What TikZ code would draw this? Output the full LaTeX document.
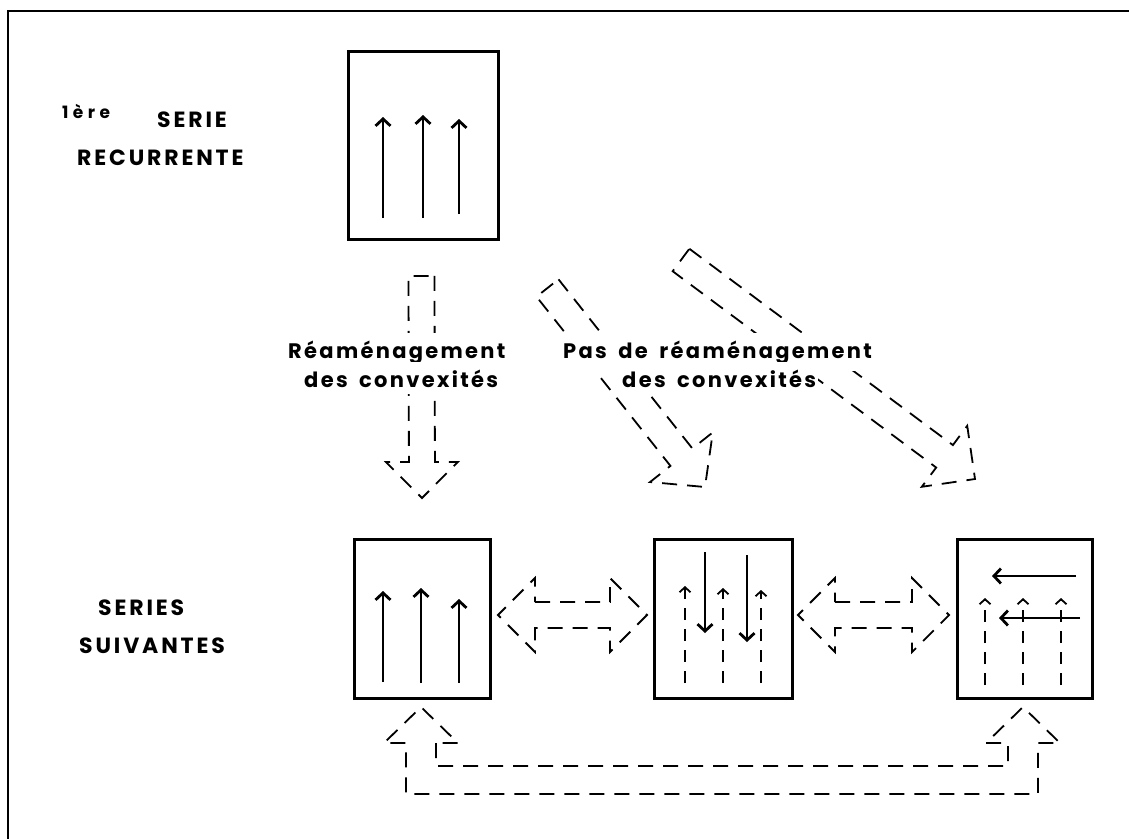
\documentclass[tikz,border=0pt]{standalone}
\usepackage{fontspec}
\setmainfont{Poppins}
\newfontfamily\lab[LetterSpace=11,WordSpace=1.7]{Poppins}
\newfontfamily\capf[LetterSpace=13]{Poppins}
\newfontfamily\supf[LetterSpace=26]{Poppins}
\usetikzlibrary{calc,arrows.meta}
\newcommand\fatarr[5]{%
  \coordinate (fab) at ($(#2)!#5!(#1)$);
  \draw[outl] ($(#1)!#3!90:(#2)$) -- ($(fab)!#3!90:(#2)$) -- ($(fab)!#4!90:(#2)$) -- (#2)
    -- ($(fab)!#4!-90:(#2)$) -- ($(fab)!#3!-90:(#2)$) -- ($(#1)!#3!-90:(#2)$) -- cycle;}
\newcommand\dblarr[5]{%
  \coordinate (dlb) at ($(#1)!#5!(#2)$);
  \coordinate (drb) at ($(#2)!#5!(#1)$);
  \draw[outl] ($(dlb)!#3!90:(#2)$) -- ($(drb)!#3!-90:(#1)$) -- ($(drb)!#4!-90:(#1)$) -- (#2)
    -- ($(drb)!#4!90:(#1)$) -- ($(drb)!#3!90:(#1)$) -- ($(dlb)!#3!-90:(#2)$) -- ($(dlb)!#4!-90:(#2)$)
    -- (#1) -- ($(dlb)!#4!90:(#2)$) -- cycle;}
\begin{document}
\begin{tikzpicture}[x=1pt,y=-1pt,
  box/.style={draw,line width=3pt,inner sep=0pt},
  outl/.style={line width=1.8pt,dash pattern=on 15pt off 10pt},
  solidarr/.style={line width=2.8pt,-{Straight Barb[length=7pt,width=15pt,line width=2.8pt]}},
  dasharr/.style={line width=1.8pt,dash pattern=on 12pt off 9pt,-{Straight Barb[length=5pt,width=11pt,line width=1.8pt]}},
  lbl/.style={font=\lab\bfseries\fontsize{21}{24}\selectfont,inner xsep=2pt,inner ysep=7pt,anchor=base west,fill=white},
  caps/.style={font=\capf\bfseries\fontsize{22}{24}\selectfont,inner sep=0pt,anchor=base west}]
\useasboundingbox (0,0) rectangle (1129,838);
% outer frame
\draw[line width=2.5pt] (8,850) -- (8,11) -- (1140,11);
% boxes
\node[box,minimum width=150pt,minimum height=188pt] (b0) at (423,145) {};
\node[box,minimum width=136pt,minimum height=159pt] (b1) at (422,618.5) {};
\node[box,minimum width=138pt,minimum height=159pt] (b2) at (723,618.5) {};
\node[box,minimum width=135pt,minimum height=159pt] (b3) at (1024.5,618.5) {};
% arrows in top box
\draw[solidarr] (383,218) -- (383,117);
\draw[solidarr] (423,218) -- (423,115);
\draw[solidarr] (459,214) -- (459,119);
% arrows in b1
\draw[solidarr] (383,682) -- (383,591);
\draw[solidarr] (421,683) -- (421,588);
\draw[solidarr] (459,683) -- (459,599);
% arrows in b2
\draw[solidarr] (705,552) -- (705,633);
\draw[solidarr] (747,555) -- (747,642);
\draw[dasharr] (685,683) -- (685,586);
\draw[dasharr] (723,683) -- (723,588);
\draw[dasharr] (761,683) -- (761,590);
% arrows in b3
\draw[dasharr] (985,685) -- (985,598);
\draw[dasharr] (1023,685) -- (1023,598);
\draw[dasharr] (1061,685) -- (1061,598);
\draw[solidarr] (1076,576) -- (992,576);
\draw[solidarr] (1080,618) -- (999,618);
% fat arrows
\coordinate (a0t) at (421.5,276);
\coordinate (a0p) at (422,498);
\fatarr{a0t}{a0p}{13pt}{36pt}{36pt}
\coordinate (a1t) at (547.5,288);
\coordinate (a1p) at (705,487);
\fatarr{a1t}{a1p}{14pt}{40pt}{38pt}
\coordinate (a2t) at (681,260);
\coordinate (a2p) at (975,479);
\fatarr{a2t}{a2p}{14pt}{38pt}{38pt}
\coordinate (d1l) at (498,615);
\coordinate (d1r) at (647,615);
\dblarr{d1l}{d1r}{13pt}{37pt}{37pt}
\coordinate (d2l) at (798,615);
\coordinate (d2r) at (949,615);
\dblarr{d2l}{d2r}{13pt}{37pt}{37pt}
% bottom loop
\coordinate (ul) at (421,707);
\coordinate (ur) at (1023,707);
\draw[outl] ($(ul)+(15,36)$) -- ($(ul)+(15,59)$) -- ($(ur)+(-15,59)$) -- ($(ur)+(-15,36)$)
  -- ($(ur)+(-37,36)$) -- (ur) -- ($(ur)+(37,36)$) -- ($(ur)+(15,36)$) -- ($(ur)+(15,87)$)
  -- ($(ul)+(-15,87)$) -- ($(ul)+(-15,36)$) -- ($(ul)+(-37,36)$) -- (ul) -- ($(ul)+(37,36)$) -- cycle;
% texts
\node[lbl] (t1) at (286,358) {Réaménagement};
\node[lbl] (t2) at (302,387) {des convexités};
\node[lbl] (t3) at (561,358) {Pas de réaménagement};
\node[lbl] (t4) at (620,387) {des convexités};
\node[caps,font=\supf\bfseries\fontsize{17}{18}\selectfont] (s0) at (62,118) {1ère};
\node[caps] (s1) at (157,127) {SERIE};
\node[caps] (s2) at (77,165) {RECURRENTE};
\node[caps] (s3) at (98,615) {SERIES};
\node[caps] (s4) at (79,653) {SUIVANTES};
\end{tikzpicture}
\end{document}
